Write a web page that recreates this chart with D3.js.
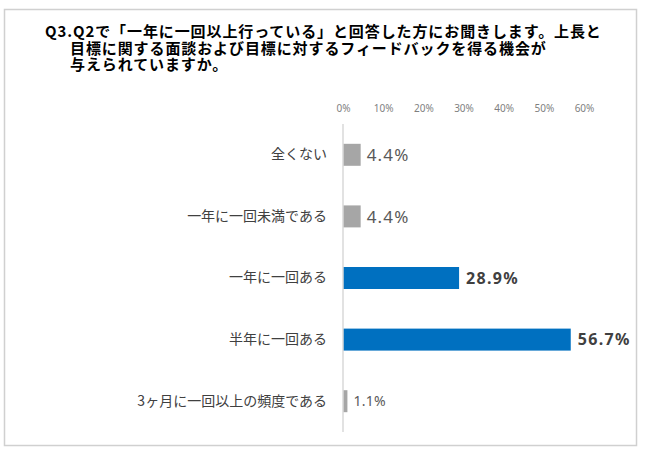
<!DOCTYPE html>
<html><head><meta charset="utf-8">
<script src="https://cdn.jsdelivr.net/npm/d3@7"></script>
<style>
html,body{margin:0;padding:0;background:#fff;}
#wrap{position:relative;width:650px;height:457px;}
svg{display:block;font-family:"Noto Sans CJK JP","Noto Sans",sans-serif;}
#title{position:absolute;left:45px;top:23px;padding-left:25px;text-indent:-25px;
  font-family:"Noto Sans CJK JP",sans-serif;font-weight:bold;
  font-size:15px;line-height:16.6px;letter-spacing:0.9px;color:#000;white-space:pre;}
</style></head>
<body>
<div id="wrap">
<svg id="chart" width="650" height="457"></svg>
<div id="title"></div>
</div>
<script>
const titleLines = [
  "Q3.Q2で「一年に一回以上行っている」と回答した方にお聞きします。上長と",
  "目標に関する面談および目標に対するフィードバックを得る機会が",
  "与えられていますか。"
];
const categories = ["全くない","一年に一回未満である","一年に一回ある","半年に一回ある","3ヶ月に一回以上の頻度である"];
const values = [4.4, 4.4, 28.9, 56.7, 1.1];
const highlighted = ["一年に一回ある","半年に一回ある"];
const tickValues = [0,10,20,30,40,50,60];

const svg = d3.select("#chart");

// frame
svg.append("rect").attr("x",4.5).attr("y",9.5).attr("width",632).attr("height",436)
  .attr("fill","#fff").attr("stroke","#d0d0d0").attr("stroke-width",1.5);

// title (single wrapped text block)
d3.select("#title").text(titleLines.join("\n"));

const x = d3.scaleLinear().domain([0,60]).range([343,584]);
const y = d3.scaleBand().domain(categories).range([124,432]).paddingInner(0.643).paddingOuter(0.3215);

// top axis labels
const ax = svg.append("g").attr("transform","translate(0,112)")
  .call(d3.axisTop(x).tickValues(tickValues).tickFormat(d=>d+"%").tickSize(0).tickPadding(0));
ax.select(".domain").remove();
ax.selectAll("text").attr("font-size",10).attr("fill","#7f7f7f")
  .attr("font-family","'Noto Sans','DejaVu Sans',sans-serif");

// bars
const data = categories.map((c,i)=>({c, v:values[i], hi: highlighted.includes(c)}));
svg.append("g").selectAll("rect").data(data).join("rect")
  .attr("x", x(0)).attr("y", d=>y(d.c))
  .attr("width", d=>x(d.v)-x(0)).attr("height", y.bandwidth())
  .attr("fill", d=>d.hi ? "#0070c0" : "#a6a6a6");

// zero line
svg.append("line").attr("x1",x(0)).attr("x2",x(0)).attr("y1",124).attr("y2",432)
  .attr("stroke","#d9d9d9").attr("stroke-width",1.5);

// category labels
const yAx = svg.append("g").attr("transform",`translate(${x(0)-16},0)`)
  .call(d3.axisLeft(y).tickSize(0).tickPadding(0));
yAx.select(".domain").remove();
yAx.selectAll("text").attr("font-size",14).attr("fill","#404040")
  .attr("font-family","'Noto Sans CJK JP',sans-serif");

// value labels
svg.append("g").selectAll("text").data(data).join("text")
  .attr("x", d=>x(d.v) + (d.hi ? 7 : 6))
  .attr("y", d=>y(d.c)+y.bandwidth()/2)
  .attr("dy","0.36em")
  .attr("font-family","'Noto Sans','DejaVu Sans',sans-serif")
  .attr("font-size", d=>d.hi ? 16 : (d.v>=2 ? 17 : 14))
  .attr("letter-spacing", d=>d.hi ? 1.3 : (d.v>=2 ? 1.2 : 0.3))
  .attr("font-weight", d=>d.hi ? "bold" : "normal")
  .attr("fill", d=>d.hi ? "#404040" : "#595959")
  .text(d=>d.v.toFixed(1)+"%");
</script>
</body></html>
